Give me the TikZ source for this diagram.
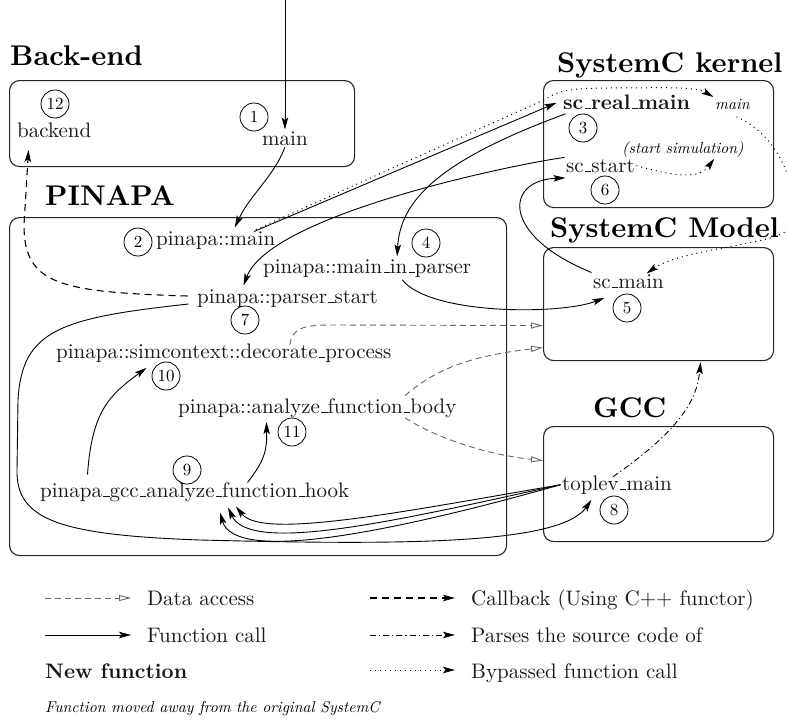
\documentclass[tikz,border=0pt]{standalone}
\usepackage{fontspec}
\setmainfont{lmroman10-regular.otf}[BoldFont=lmroman10-bold.otf, ItalicFont=lmroman10-italic.otf]
\usetikzlibrary{arrows.meta,calc}
\newcommand\usc{\leavevmode\kern.06em\vbox{\hrule width.3em height .9pt}}
\begin{document}
\begin{tikzpicture}[x=1pt,y=-1pt,
  box/.style={draw=black!85, line width=1.1pt, rounded corners=10pt, anchor=north west, inner sep=0pt},
  fn/.style={font=\fontsize{21}{25}\selectfont, inner sep=1.5pt, anchor=base west, text=black!90},
  fnb/.style={fn, font=\fontsize{21}{25}\selectfont\bfseries},
  itx/.style={font=\fontsize{15.7}{19}\selectfont\itshape, inner sep=1.5pt, anchor=base west},
  ttl/.style={font=\fontsize{28.5}{32}\selectfont\bfseries, inner sep=0pt, anchor=base west},
  num/.style={circle, draw, line width=0.8pt, minimum size=28pt, inner sep=0pt, font=\fontsize{17}{20}\selectfont},
  mytip/.tip={Stealth[length=12pt,width=6.5pt,inset=2.5pt]},
  opentip/.tip={Triangle[open,length=12pt,width=6pt]},
  call/.style={line width=0.9pt, -mytip},
  cback/.style={line width=1.1pt, dash pattern=on 7pt off 5pt, -mytip},
  parse/.style={line width=0.9pt, dash pattern=on 6pt off 3pt on 1.2pt off 3pt, -mytip},
  bypass/.style={line width=1pt, dash pattern=on 1pt off 4pt, -mytip},
  data/.style={draw=black!60, line width=0.9pt, dash pattern=on 6pt off 4pt, -opentip}
]
\path[use as bounding box] (0,0) rectangle (787,720);

% boxes and titles
\node[box, minimum width=345, minimum height=86] (bebox) at (9,80) {};
\node[box, minimum width=497, minimum height=338] (pinbox) at (9,217) {};
\node[box, minimum width=230, minimum height=127] (kernel) at (543,80) {};
\node[box, minimum width=230, minimum height=113] (model) at (543,247) {};
\node[box, minimum width=230, minimum height=115] (gcc) at (543,426) {};
\node[ttl] (tbe) at (10,65) {Back-end};
\node[ttl] (tpin) at (45,205) {PINAPA};
\node[ttl] (tker) at (557,72) {SystemC kernel};
\node[ttl] (tmod) at (550,237) {SystemC Model};
\node[ttl] (tgcc) at (593,417) {GCC};

% function nodes
\node[fn] (main1) at (260.5,145) {main};
\node[fn] (backend) at (15.5,137) {backend};
\node[fn] (pmain) at (154.5,245) {pinapa::main};
\node[fn] (mip) at (261.5,273) {pinapa::main\usc in\usc parser};
\node[fn] (pstart) at (195.5,303) {pinapa::parser\usc start};
\node[fn] (deco) at (54.5,358) {pinapa::simcontext::decorate\usc process};
\node[fn] (afb) at (176.5,413) {pinapa::analyze\usc function\usc body};
\node[fn] (hook) at (38.5,497) {pinapa\usc gcc\usc analyze\usc function\usc hook};
\node[fnb] (scrm) at (561.5,109) {sc\usc real\usc main};
\node[itx] (kmain) at (713.5,109) {main};
\node[itx] (startsim) at (620.5,153) {(start simulation)};
\node[fn] (scstart) at (564.5,172) {sc\usc start};
\node[fn] (scmain) at (591.5,288) {sc\usc main};
\node[fn] (toplev) at (560.5,490) {toplev\usc main};

% numbers
\node[num] (n12) at (55,104) {12};
\node[num] (n1) at (254,117) {1};
\node[num] (n2) at (138,242) {2};
\node[num] (n4) at (426,243) {4};
\node[num] (n7) at (245,320) {7};
\node[num] (n10) at (166,376) {10};
\node[num] (n11) at (292,432) {11};
\node[num] (n9) at (187,470) {9};
\node[num] (n3) at (583,128) {3};
\node[num] (n6) at (605,190) {6};
\node[num] (n5) at (627,308) {5};
\node[num] (n8) at (614,510) {8};

% function calls
\coordinate (in) at ($(main1.north)+(0,-130)$);
\draw[call] (in) -- (main1.north);
\draw[call] (main1.south) .. controls (275,175) and (250,195) .. ($(pmain.north)+(19,-2)$);
\draw[call] ($(pmain.north east)+(-23,2)$) -- ($(scrm.west)+(-5,1)$);
\draw[call] ($(scrm.south west)+(4,3)$) .. controls (440,160) and (400,200) .. ($(mip.north)+(30,-1)$);
\draw[call] ($(mip.south)+(35,1)$) .. controls (430,315) and (560,315) .. ($(scmain.south west)+(13,8)$);
\draw[call] (scmain.north west) .. controls (500,235) and (505,180) .. ($(scstart.south west)+(1,4)$);
\draw[call] (scstart.north west) .. controls (510,165) and (270,215) .. ($(pstart.north)+(-44,-2)$);
\draw[call] ($(pstart.base west)+(-7,1)$) .. controls (60,318) and (22,330) .. (18,400) -- (17,470)
   .. controls (16,520) and (60,535) .. (200,540) .. controls (400,545) and (560,545) .. ($(toplev.south west)+(31,4)$);
\draw[call] (toplev.west) .. controls (400,512) and (262,540) .. ($(hook.south west)+(197.5,3.4)$);
\draw[call] (toplev.west) .. controls (400,520) and (250,555) .. ($(hook.south west)+(189.5,4.4)$);
\draw[call] (toplev.west) .. controls (400,530) and (235,565) .. ($(hook.south west)+(181.5,9.4)$);
\draw[call] ($(hook.north west)+(49,-6)$) .. controls (92,410) and (110,395) .. ($(deco.south west)+(92,4)$);
\draw[call] ($(hook.north west)+(209,2)$) .. controls (265,460) and (267,450) .. ($(afb.south west)+(90,3)$);

% callback
\draw[cback] ($(pstart.base west)+(-8,-7)$) .. controls (60,292) and (24,285) .. (24,225) -- ($(backend.south west)+(13,11)$);

% bypassed calls
\draw[bypass] ($(pmain.north east)+(-21,0)$) -- (546,99) .. controls (558,90) and (575,88) .. (610,88)
   .. controls (660,88) and (695,86) .. (kmain.north west);
\draw[bypass] ($(kmain.south)+(4,6)$) .. controls (790,140) and (805,215) .. (785,232)
   .. controls (765,245) and (680,250) .. ($(scmain.north east)+(-19,1)$);
\draw[bypass] (scstart.east) .. controls (680,178) and (700,178) .. ($(startsim.south east)+(-31,0)$);

% parses
\draw[parse] ($(toplev.north)+(-4,3)$) .. controls (680,430) and (697,400) .. ($(model.south)+(42,1)$);

% data access
\draw[data] ($(deco.north)+(66,3)$) .. controls (292,330) and (300,325) .. (330,325) -- ($(model.west)+(0,21.5)$);
\draw[data] ($(afb.north east)+(-53,-1)$) .. controls (440,365) and (480,355) .. ($(model.west)+(0,43.5)$);
\draw[data] ($(afb.south east)+(-53,-1)$) .. controls (440,440) and (490,455) .. ($(gcc.west)+(0,-23.5)$);

% legend
\coordinate (la1) at (45,598); \coordinate (lb1) at (131,598);
\coordinate (la2) at (45,635); \coordinate (lb2) at (131,635);
\coordinate (ra1) at (370,598); \coordinate (rb1) at (455,598);
\coordinate (ra2) at (370,635); \coordinate (rb2) at (455,635);
\coordinate (ra3) at (370,670); \coordinate (rb3) at (455,670);
\draw[data] (la1) -- (lb1);
\draw[call] (la2) -- (lb2);
\draw[cback] (ra1) -- (rb1);
\draw[parse] (ra2) -- (rb2);
\draw[bypass] (ra3) -- (rb3);
\node[fn] (lt1) at (145.5,605) {Data access};
\node[fn] (lt2) at (145.5,642) {Function call};
\node[fnb] (lt3) at (43.5,678) {New function};
\node[fn] (rt1) at (469.5,605) {Callback (Using C++ functor)};
\node[fn] (rt2) at (469.5,642) {Parses the source code of};
\node[fn] (rt3) at (469.5,678) {Bypassed function call};
\node[itx] (lt4) at (43.5,712) {Function moved away from the original SystemC};
\end{tikzpicture}
\end{document}
